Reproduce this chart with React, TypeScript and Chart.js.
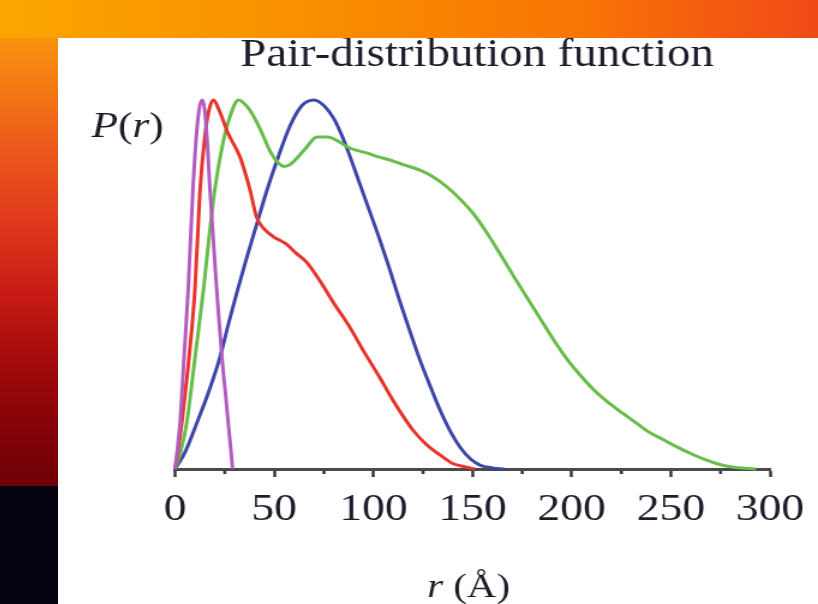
import React, { useEffect, useRef } from 'react';
import { Chart, registerables } from 'chart.js';

Chart.register(...registerables);

// ---- data (r in Å, P(r) normalised) ----
const xTicks = [0, 50, 100, 150, 200, 250, 300];
const minorTicks = [25, 75, 125, 175, 225, 275];

const purpleR = [0, 2.5, 4.5, 6.6, 9, 11, 12.5, 13.8, 15, 16.3, 17.6, 19.3, 21, 22.5, 24, 25.5, 26.8, 28, 29];
const purpleP = [0, 0.125, 0.3, 0.485, 0.756, 0.92, 0.985, 1.0, 0.97, 0.88, 0.756, 0.62, 0.485, 0.38, 0.28, 0.2, 0.125, 0.06, 0];

const redR = [0, 1.5, 3.4, 5, 7, 10, 12.6, 15, 17, 19.3, 22, 26.7, 32.8, 37.8, 41, 45, 49.5, 56, 61, 66.4, 73, 80, 88, 95, 103, 110, 120, 127, 133.6, 140, 147, 151];
const redP = [0, 0.05, 0.125, 0.2, 0.3, 0.485, 0.756, 0.9, 0.97, 1.0, 0.975, 0.91, 0.845, 0.756, 0.684, 0.65, 0.63, 0.61, 0.585, 0.56, 0.51, 0.45, 0.385, 0.32, 0.25, 0.185, 0.105, 0.065, 0.038, 0.015, 0.005, 0];

const greenR = [0, 3, 5.9, 10, 14.3, 17, 20, 24, 28, 32, 35, 38, 43, 48, 52, 55, 58, 61, 66, 71.5, 77, 81.7, 88, 97, 103, 108, 115, 123.5, 130, 137, 144, 151, 157, 164, 171, 178, 185, 191.6, 198, 205, 212, 219, 226, 232.5, 239, 246, 253, 260, 266, 273, 280, 287, 293];
const greenP = [0, 0.05, 0.125, 0.3, 0.485, 0.62, 0.756, 0.88, 0.96, 1.0, 0.99, 0.97, 0.92, 0.86, 0.83, 0.82, 0.825, 0.84, 0.87, 0.9, 0.9, 0.89, 0.87, 0.856, 0.845, 0.838, 0.825, 0.81, 0.792, 0.765, 0.73, 0.688, 0.642, 0.582, 0.52, 0.46, 0.4, 0.344, 0.295, 0.25, 0.21, 0.178, 0.15, 0.125, 0.1, 0.08, 0.06, 0.042, 0.028, 0.015, 0.006, 0.002, 0];

const blueR = [0, 5, 11, 17, 22.7, 27, 31, 36, 41, 46, 51, 58, 64, 70, 75, 80, 84, 88, 92, 97, 103, 108, 113, 118, 123.5, 129, 134, 139, 144, 149, 154, 160, 166];
const blueP = [0, 0.045, 0.125, 0.21, 0.304, 0.395, 0.475, 0.57, 0.66, 0.75, 0.83, 0.93, 0.985, 1.0, 0.985, 0.95, 0.905, 0.85, 0.79, 0.715, 0.625, 0.545, 0.46, 0.38, 0.295, 0.22, 0.155, 0.1, 0.057, 0.027, 0.01, 0.003, 0];

const titleText = 'Pair-distribution function';

const W = 633;
const H = 566;
const SX = 760 / W;
const SERIF = '"Liberation Serif", "Times New Roman", serif';
const TEXT = '#1e1d2a';

const zip = (xs: number[], ys: number[]) => xs.map((x, i) => ({ x, y: ys[i] }));

const textPlugin = {
  id: 'textPlugin',
  afterDraw(chart: any) {
    const ctx = chart.ctx as CanvasRenderingContext2D;
    const xs = chart.scales.x;
    ctx.save();
    // minor tick dots
    ctx.fillStyle = '#3a3a3a';
    for (const v of minorTicks) {
      const px = xs.getPixelForValue(v);
      ctx.fillRect(px - 1.2, xs.top + 2, 2.6, 3);
    }
    ctx.fillStyle = TEXT;
    ctx.textBaseline = 'alphabetic';
    // title
    ctx.font = `39px ${SERIF}`;
    ctx.textAlign = 'center';
    ctx.fillText(titleText, 349, 28);
    const drawParts = (segs: [string, boolean][], size: number, x: number, y: number, center: boolean) => {
      const p = segs.map(([t, it]) => {
        ctx.font = `${it ? 'italic ' : ''}${size}px ${SERIF}`;
        return { t, it, w: ctx.measureText(t).width };
      });
      const total = p.reduce((a, b) => a + b.w, 0);
      let cx = center ? x - total / 2 : x;
      ctx.textAlign = 'left';
      for (const s of p) {
        ctx.font = `${s.it ? 'italic ' : ''}${size}px ${SERIF}`;
        ctx.fillText(s.t, cx, y);
        cx += s.w;
      }
    };
    drawParts([['P', true], ['(', false], ['r', true], [')', false]], 36, 28, 99, false);
    drawParts([['r', true], [' (Å)', false]], 34, 342, 559, true);
    ctx.restore();
  },
};

export default function App() {
  const ref = useRef<HTMLCanvasElement>(null);
  useEffect(() => {
    document.body.style.margin = '0';
    const ds = (label: string, r: number[], p: number[], color: string) => ({
      label,
      data: zip(r, p),
      borderColor: color,
      backgroundColor: color,
      borderWidth: 3,
      pointRadius: 0,
      fill: false,
      cubicInterpolationMode: 'monotone' as const,
      clip: false as const,
    });
    const chart = new Chart(ref.current!, {
      type: 'line',
      data: {
        datasets: [
          ds('purple', purpleR, purpleP, '#b25cc0'),
          ds('red', redR, redP, '#e8352b'),
          ds('green', greenR, greenP, '#68bd4c'),
          ds('blue', blueR, blueP, '#3d47a8'),
        ],
      },
      options: {
        responsive: false,
        animation: false,
        devicePixelRatio: 1,
        layout: { padding: { left: 97.5, right: 40, top: 62, bottom: 0 } },
        plugins: { legend: { display: false }, tooltip: { enabled: false }, title: { display: false } },
        scales: {
          x: {
            type: 'linear',
            min: 0,
            max: 300,
            afterBuildTicks: (scale: any) => {
              scale.ticks = xTicks.map((v) => ({ value: v }));
            },
            afterFit: (scale: any) => {
              scale.height = 135;
            },
            ticks: {
              font: { family: SERIF, size: 38 },
              color: TEXT,
              padding: 10,
              maxRotation: 0,
              autoSkip: false,
            },
            grid: {
              display: true,
              drawOnChartArea: false,
              drawTicks: true,
              tickLength: 8,
              tickColor: '#3a3a3a',
              tickWidth: 2.5,
            },
            border: { display: true, color: '#4a4a4a', width: 3 },
          },
          y: { type: 'linear', min: 0, max: 1, display: false },
        },
      },
      plugins: [textPlugin],
    } as any);
    return () => chart.destroy();
  }, []);

  return (
    <div style={{ position: 'fixed', left: 0, top: 0, width: 818, height: 604, overflow: 'hidden', background: '#05030f' }}>
      <div
        style={{
          position: 'absolute', left: 0, top: 0, width: 58, height: 486,
          background: 'linear-gradient(180deg, #fba200 0%, #f58412 14%, #ec5a1c 30%, #e03a1c 45%, #c81c14 60%, #a00a0a 75%, #850308 88%, #6c0006 100%)',
        }}
      />
      <div
        style={{
          position: 'absolute', left: 0, top: 0, width: 818, height: 38,
          background: 'linear-gradient(90deg, #fba600 0%, #fa9700 25%, #f98600 50%, #f87406 72%, #f45a10 88%, #f04a18 100%)',
        }}
      />
      <div style={{ position: 'absolute', left: 58, top: 38, width: 760, height: 566, background: '#ffffff' }}>
        <div style={{ width: W, height: H, transform: `scaleX(${SX})`, transformOrigin: '0 0' }}>
          <canvas ref={ref} width={W} height={H} style={{ width: W, height: H, display: 'block' }} />
        </div>
      </div>
    </div>
  );
}
